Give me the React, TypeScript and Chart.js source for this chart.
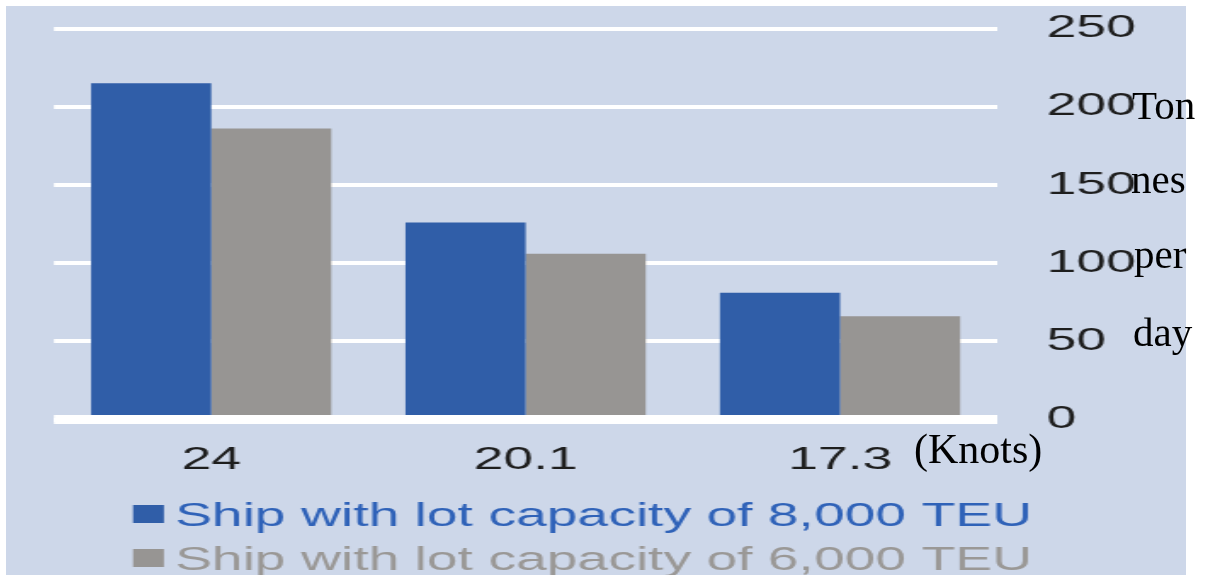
import React, { useEffect, useRef } from "react";
import { Chart, registerables } from "chart.js";

Chart.register(...registerables);

// ---- data ----
const categories = ["24", "20.1", "17.3"];
const series8000 = [215, 126, 81];
const series6000 = [186, 106, 66];
const seriesLabels = [
  "Ship with lot capacity of 8,000 TEU",
  "Ship with lot capacity of 6,000 TEU",
];
const yTicks = [0, 50, 100, 150, 200, 250];
const unitWords = ["Ton", "nes", "per", "day"];
const xUnit = "(Knots)";

// ---- styling ----
const BAR_BLUE = "#305EA8";
const BAR_GRAY = "#979593";
const LEGEND_TEXT = ["#2F62B8", "#9A9896"];
const PANEL_BG = "#CDD7E9";
const SANS = '"Liberation Sans", Arial, sans-serif';

// canvas is drawn narrow and stretched horizontally like the reference
const CSS_W = 1180;
const CSS_H = 569;
const STRETCH = 1.7;
const INT_W = Math.round(CSS_W / STRETCH);

const baselinePlugin = {
  id: "zeroBaseline",
  afterDatasetsDraw(chart: any) {
    const { ctx, chartArea, scales } = chart;
    const py = scales.y.getPixelForValue(0);
    ctx.save();
    ctx.strokeStyle = "#FFFFFF";
    ctx.lineWidth = 9;
    ctx.beginPath();
    ctx.moveTo(chartArea.left, py);
    ctx.lineTo(chartArea.right, py);
    ctx.stroke();
    ctx.restore();
  },
};

const legendPlugin = {
  id: "stackedLegend",
  afterDraw(chart: any) {
    const ctx = chart.ctx;
    ctx.save();
    const boxX = 74.7;
    const boxW = 18.2;
    const boxH = 18;
    const textX = 99.4;
    const row0 = 499;
    const rowStep = 44;
    chart.data.datasets.forEach((ds: any, i: number) => {
      const top = row0 + i * rowStep;
      ctx.fillStyle = ds.backgroundColor;
      ctx.fillRect(boxX, top, boxW, boxH);
      ctx.fillStyle = LEGEND_TEXT[i];
      ctx.font = `32.5px ${SANS}`;
      ctx.textBaseline = "alphabetic";
      ctx.textAlign = "left";
      ctx.fillText(ds.label, textX, top + 21);
    });
    ctx.restore();
  },
};

export default function App() {
  const ref = useRef<HTMLCanvasElement | null>(null);

  useEffect(() => {
    if (!ref.current) return;
    const chart = new Chart(ref.current, {
      type: "bar",
      data: {
        labels: categories,
        datasets: [
          {
            label: seriesLabels[0],
            data: series8000,
            backgroundColor: BAR_BLUE,
            categoryPercentage: 0.764,
            barPercentage: 1,
          },
          {
            label: seriesLabels[1],
            data: series6000,
            backgroundColor: BAR_GRAY,
            categoryPercentage: 0.764,
            barPercentage: 1,
          },
        ],
      },
      options: {
        responsive: false,
        animation: false,
        devicePixelRatio: 1,
        layout: { padding: { left: 28.2, top: 22.5, right: 0, bottom: 95.5 } },
        plugins: {
          legend: { display: false },
          tooltip: { enabled: false },
        },
        scales: {
          x: {
            type: "category",
            grid: { display: false, drawTicks: false },
            border: { display: false },
            ticks: {
              color: "#1E1E1E",
              font: { family: SANS, size: 31.5 },
              padding: 22,
            },
            afterFit: (s: any) => {
              s.height = 60;
              s.paddingLeft = 0;
              s.paddingRight = 0;
            },
          },
          y: {
            position: "right",
            min: 0,
            max: 250,
            afterBuildTicks: (s: any) => {
              s.ticks = yTicks.map((v) => ({ value: v }));
            },
            grid: { color: "#FFFFFF", lineWidth: 4, drawTicks: false },
            border: { display: false },
            ticks: {
              color: "#1E1E1E",
              font: { family: SANS, size: 31.5 },
              padding: 29,
              callback: (v: any) => String(v),
            },
            afterFit: (s: any) => {
              s.width = 111;
              s.paddingTop = 0;
              s.paddingBottom = 0;
            },
          },
        },
      },
      plugins: [baselinePlugin, legendPlugin],
    } as any);
    return () => chart.destroy();
  }, []);

  const serif = '"Liberation Serif", "Times New Roman", serif';
  const unitPos = [
    { x: 1132, y: 119 },
    { x: 1131, y: 193 },
    { x: 1134, y: 268 },
    { x: 1133, y: 346 },
  ];

  return (
    <div style={{ position: "absolute", left: 0, top: 0, width: 1217, height: 580, background: "#FFFFFF" }}>
      <div
        style={{
          position: "absolute",
          left: 6,
          top: 6,
          width: CSS_W,
          height: CSS_H,
          background: PANEL_BG,
        }}
      />
      <canvas
        ref={ref}
        width={INT_W}
        height={CSS_H}
        style={{ position: "absolute", left: 6, top: 6, width: CSS_W + "px", height: CSS_H + "px" }}
      />
      <svg
        width={1217}
        height={580}
        style={{ position: "absolute", left: 0, top: 0, pointerEvents: "none" }}
      >
        {unitWords.map((w, i) => (
          <text key={w} x={unitPos[i].x} y={unitPos[i].y} fontFamily={serif} fontSize={41} fill="#000">
            {w}
          </text>
        ))}
        <text x={914} y={463} fontFamily={serif} fontSize={42} fill="#000">
          {xUnit}
        </text>
      </svg>
    </div>
  );
}
